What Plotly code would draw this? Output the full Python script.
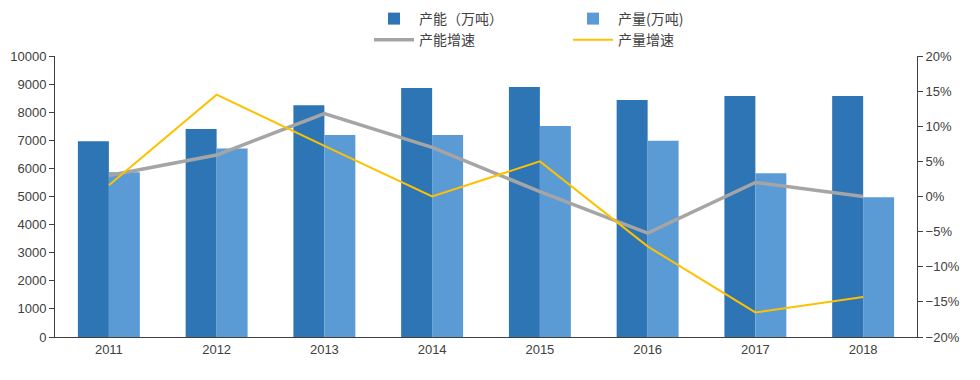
import plotly.graph_objects as go

years = ["2011", "2012", "2013", "2014", "2015", "2016", "2017", "2018"]
capacity = [6970, 7400, 8250, 8860, 8900, 8430, 8580, 8580]
output = [5860, 6710, 7190, 7190, 7510, 6980, 5830, 4970]
capacity_growth = [3.0, 5.9, 11.8, 7.0, 0.7, -5.2, 2.0, 0.0]
output_growth = [1.6, 14.5, 7.2, 0.0, 5.0, -7.1, -16.5, -14.3]

cap_g = [v / 100 for v in capacity_growth]
out_g = [v / 100 for v in output_growth]

font_cjk = "Noto Sans CJK SC"
tick_font = dict(family="Liberation Sans, Arial", size=13, color="#404040")

fig = go.Figure()
fig.add_trace(go.Bar(x=years, y=capacity, name="产能（万吨）", marker_color="#2E75B6",
                     marker_line_width=0, legend="legend"))
fig.add_trace(go.Bar(x=years, y=output, name="产量(万吨)", marker_color="#5B9BD5",
                     marker_line_width=0, legend="legend2"))
fig.add_trace(go.Scatter(x=years, y=cap_g, name="产能增速", mode="lines",
                         line=dict(color="#A5A5A5", width=3.5), yaxis="y2", legend="legend"))
fig.add_trace(go.Scatter(x=years, y=out_g, name="产量增速", mode="lines",
                         line=dict(color="#FFC000", width=2), yaxis="y2", legend="legend2"))

# page has an 8px body margin; work in screen pixels
OFF = 8
L, R, T, B = 47, 71, 48, 51
plot_w = 980 - L - R
plot_h = 380 - T - B

def sx(px):
    return (px - OFF - L) / plot_w

def sy(py):
    return (380 - B + OFF - py) / plot_h

legend_common = dict(orientation="v", yanchor="top", xanchor="left",
                     bgcolor="rgba(0,0,0,0)",
                     font=dict(family=font_cjk, size=14, color="#404040"),
                     tracegroupgap=0, itemwidth=40)

fig.update_layout(
    width=980, height=380,
    margin=dict(l=L, r=R, t=T, b=B, autoexpand=False),
    plot_bgcolor="white", paper_bgcolor="white",
    barmode="group", bargap=0.425, bargroupgap=0,
    showlegend=True,
    legend=dict(x=sx(369), y=sy(3), **legend_common),
    legend2=dict(x=sx(568), y=sy(3), **legend_common),
    xaxis=dict(showline=True, linecolor="#404040", linewidth=1, ticks="",
               tickfont=tick_font, showgrid=False),
    yaxis=dict(range=[0, 10000], dtick=1000, tickformat="d", showline=True,
               linecolor="#404040", linewidth=1, ticks="outside", ticklen=5,
               tickcolor="#404040", tickfont=tick_font, showgrid=False, zeroline=False),
    yaxis2=dict(range=[-0.2, 0.2], dtick=0.05, tickformat=".0%", overlaying="y",
                side="right", showline=True, linecolor="#404040", linewidth=1,
                ticks="outside", ticklen=5, tickcolor="#404040", tickfont=tick_font,
                showgrid=False, zeroline=False),
)

fig.write_html("out.html")
